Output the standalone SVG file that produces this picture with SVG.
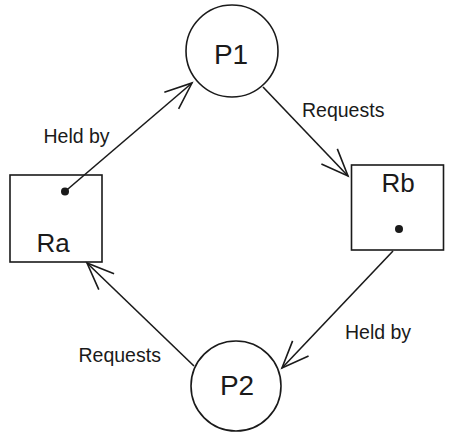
<svg xmlns="http://www.w3.org/2000/svg" width="453" height="440" viewBox="0 0 453 440">
<style>
.n{fill:#fff;stroke:#1a1a1a;stroke-width:1.6}
.e{fill:none;stroke:#1a1a1a;stroke-width:1.6}
.t{font-family:"Liberation Sans",Arial,sans-serif;fill:#1a1a1a}
.big{font-size:28px;text-anchor:middle}
.mid{font-size:26px;text-anchor:middle}
.lbl{font-size:19.5px}
.dot{fill:#1a1a1a}
</style>
<defs>
<marker id="arr" markerUnits="userSpaceOnUse" markerWidth="40" markerHeight="40" viewBox="-34 -20 40 40" refX="0" refY="0" orient="auto" overflow="visible">
<path d="M-27,-11 L0,0 L-27,11" fill="none" stroke="#1a1a1a" stroke-width="1.6"/>
</marker>
</defs>
<g id="P1"><circle class="n" cx="232" cy="51" r="46"/><text class="t big" x="231" y="64">P1</text></g>
<g id="P2"><circle class="n" cx="236" cy="386" r="45"/><text class="t big" x="237" y="395">P2</text></g>
<g id="Ra"><rect class="n" x="10" y="175" width="92" height="87"/><text class="t mid" x="53" y="252">Ra</text><circle class="dot" cx="65" cy="191.5" r="4"/></g>
<g id="Rb"><rect class="n" x="351.5" y="165" width="92" height="85"/><text class="t mid" x="398" y="192">Rb</text><circle class="dot" cx="399" cy="229" r="4"/></g>
<g id="connectors">
<line class="e" x1="65" y1="191.5" x2="192" y2="83" marker-end="url(#arr)"/>
<line class="e" x1="263" y1="87" x2="348" y2="176" marker-end="url(#arr)"/>
<line class="e" x1="393" y1="251" x2="282" y2="368" marker-end="url(#arr)"/>
<line class="e" x1="194" y1="366" x2="87" y2="263" marker-end="url(#arr)"/>
<text class="t lbl" x="43.5" y="143">Held by</text>
<text class="t lbl" x="302" y="117">Requests</text>
<text class="t lbl" x="345" y="339">Held by</text>
<text class="t lbl" x="78.5" y="362">Requests</text>
</g>
</svg>
